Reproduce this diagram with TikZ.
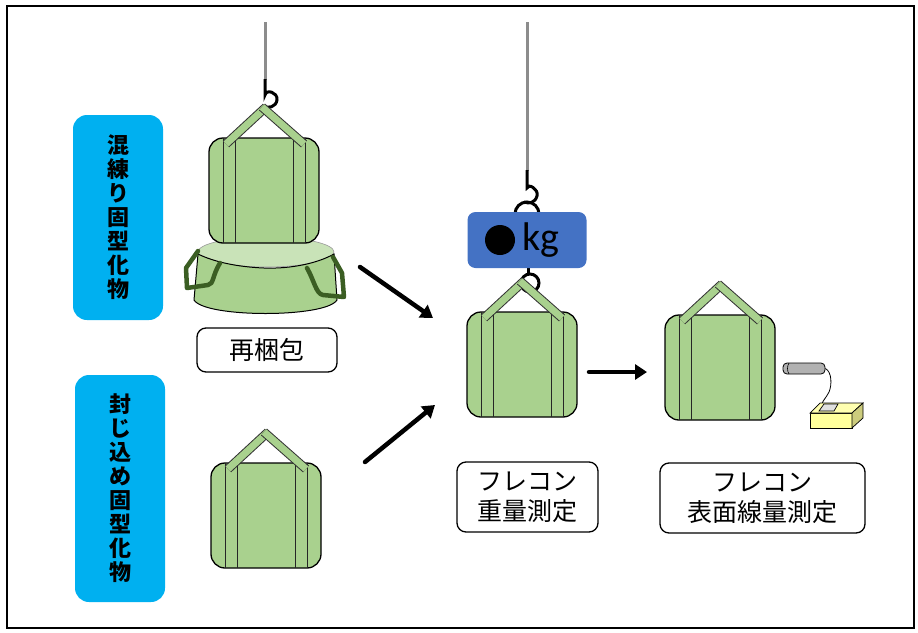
\documentclass[tikz,border=0pt]{standalone}
\usepackage{fontspec}
\newfontfamily\cjk{Noto Sans CJK JP}
\newfontfamily\calib{Carlito}
\usetikzlibrary{arrows.meta, positioning}

\definecolor{baggreen}{HTML}{A9D18E}
\definecolor{baglight}{HTML}{C9E3B8}
\definecolor{handlegreen}{HTML}{3B5E23}
\definecolor{sidecyan}{HTML}{00B0F0}
\definecolor{scaleblue}{HTML}{4472C4}
\definecolor{ropegray}{HTML}{8C8C8C}
\definecolor{boxyellow}{HTML}{FFFF9C}

\tikzset{
  flecon/.pic={
    \draw[bag] (-55,0) rectangle (55,105);
    \foreach \x in {-41,-29,29,41} \draw[seam] (\x,0) -- (\x,105);
    \draw[strapedge] (-38,6) -- (2,-31);
    \draw[strapfill] (-38,6) -- (2,-31);
    \draw[strapedge] (-2,-31) -- (40,6);
    \draw[strapfill] (-2,-31) -- (40,6);
  }
}

\begin{document}
\begin{tikzpicture}[
  x=1pt, y=-1pt,
  bag/.style={draw=black, line width=1.3pt, fill=baggreen, rounded corners=14pt},
  seam/.style={draw=black!85, line width=0.9pt},
  strapedge/.style={line width=9pt, black!80},
  strapfill/.style={line width=7pt, baggreen},
  rope/.style={line width=3pt, ropegray},
  wire/.style={line width=3pt, black},
  sidebox/.style={fill=sidecyan, rounded corners=14pt, minimum width=90pt, align=center,
    font=\cjk\bfseries\fontsize{22}{24}\selectfont},
  label/.style={draw, line width=1.3pt, rounded corners=9pt, align=center,
    font=\cjk\fontsize{25}{30}\selectfont},
  arrow/.style={-{Triangle[length=12pt, width=15pt]}, line width=4.5pt, line cap=round}
]
\useasboundingbox (0,0) rectangle (918,632);
\draw[line width=2pt] (7,6) rectangle (914,628);

% side captions
\node[sidebox, minimum height=205pt] (mixed) at (118,217.5) {混\\練\\り\\固\\型\\化\\物};
\node[sidebox, minimum height=227pt] (sealed) at (120,488.5) {封\\じ\\込\\め\\固\\型\\化\\物};

% repacked bag: flattened outer bag
\fill[baglight, draw=black!40, line width=0.6pt] (266,252) ellipse [x radius=68, y radius=15];
\draw[fill=baggreen, line width=1pt] (198,254) -- (194,300)
  .. controls (205,318) and (326,318) .. (337,300) -- (334,254)
  .. controls (318,263) and (292,269) .. (264,268)
  .. controls (238,267) and (214,262) .. (198,254) -- cycle;
\draw[handlegreen, line width=4.5pt, line join=round, line cap=round]
  (220,263) .. controls (212,276) and (214,284) .. (208,285) -- (187,288) -- (186,268) -- (198,251);
\draw[handlegreen, line width=4.5pt, line join=round, line cap=round]
  (307,268) .. controls (314,280) and (316,294) .. (323,295) -- (344,297) -- (342,273) -- (333,257);

% hoist and inner bag
\draw[rope] (265,22) -- (265,80);
\draw[wire] (265,79) -- (265,95)
  .. controls (266,89) and (278,92) .. (277,100)
  .. controls (276,107) and (268,109) .. (263,106);
\pic at (264,138) {flecon};
\node[label, minimum width=140pt, minimum height=44pt] (repack) at (267,350) {再梱包};

% sealed bag
\pic at (266,463) {flecon};

% weighing
\draw[rope] (527,22) -- (527,171);
\draw[wire] (527,170) -- (527,188)
  .. controls (528,183) and (539,189) .. (537,196)
  .. controls (535,203) and (529,204) .. (524,202);
\draw[wire] (527,214) circle (12);
\draw[wire] (528,268) -- (528,274);
\draw[wire] (530,283) circle (9);
\node[fill=scaleblue, rounded corners=8pt, minimum width=119pt, minimum height=56pt] (scale) at (527,240) {};
\fill (500,240) circle (15);
\node[font=\calib\fontsize{40}{40}\selectfont, inner sep=0pt] (kg) at (541,240) {kg};
\pic at (522,312) {flecon};
\node[label, minimum width=141pt, minimum height=70pt] (weigh) at (527.5,497) {フレコン\\重量測定};

% surface dose measurement
\pic at (720,315) {flecon};
\node[draw, line width=0.8pt, fill=black!30, rounded corners=4pt, minimum width=42pt, minimum height=11pt, inner sep=0pt] (probe) at (804,368.5) {};
\draw[line width=0.6pt] (789,363) .. controls (787,366) and (787,371) .. (789,374);
\draw[line width=0.8pt] (probe.east) .. controls (832,372) and (832,385) .. (829,392)
  .. controls (826,398) and (823,400) .. (822,404);
\draw[line width=0.7pt, fill=boxyellow] (810,413) -- (852,413) -- (852,428) -- (810,428) -- cycle;
\draw[line width=0.7pt, fill=boxyellow!80!white] (810,413) -- (820,403) -- (863,403) -- (852,413) -- cycle;
\draw[line width=0.7pt, fill=boxyellow!80!black] (852,413) -- (863,403) -- (863,418) -- (852,428) -- cycle;
\draw[line width=0.7pt, fill=black!12] (819,411) -- (824,404) -- (838,404) -- (834,411) -- cycle;
\node[label, minimum width=205pt, minimum height=70pt] (survey) at (762.5,498) {フレコン\\表面線量測定};

% flow arrows
\coordinate (mixOut) at (360,267);
\coordinate (sealOut) at (365,462);
\coordinate (weighIn) at (433,318);
\coordinate (weighIn2) at (435,405);
\coordinate (weighOut) at (589,372);
\coordinate (surveyIn) at (647,372);
\draw[arrow] (mixOut) -- (weighIn);
\draw[arrow] (sealOut) -- (weighIn2);
\draw[arrow] (weighOut) -- (surveyIn);
\end{tikzpicture}
\end{document}
